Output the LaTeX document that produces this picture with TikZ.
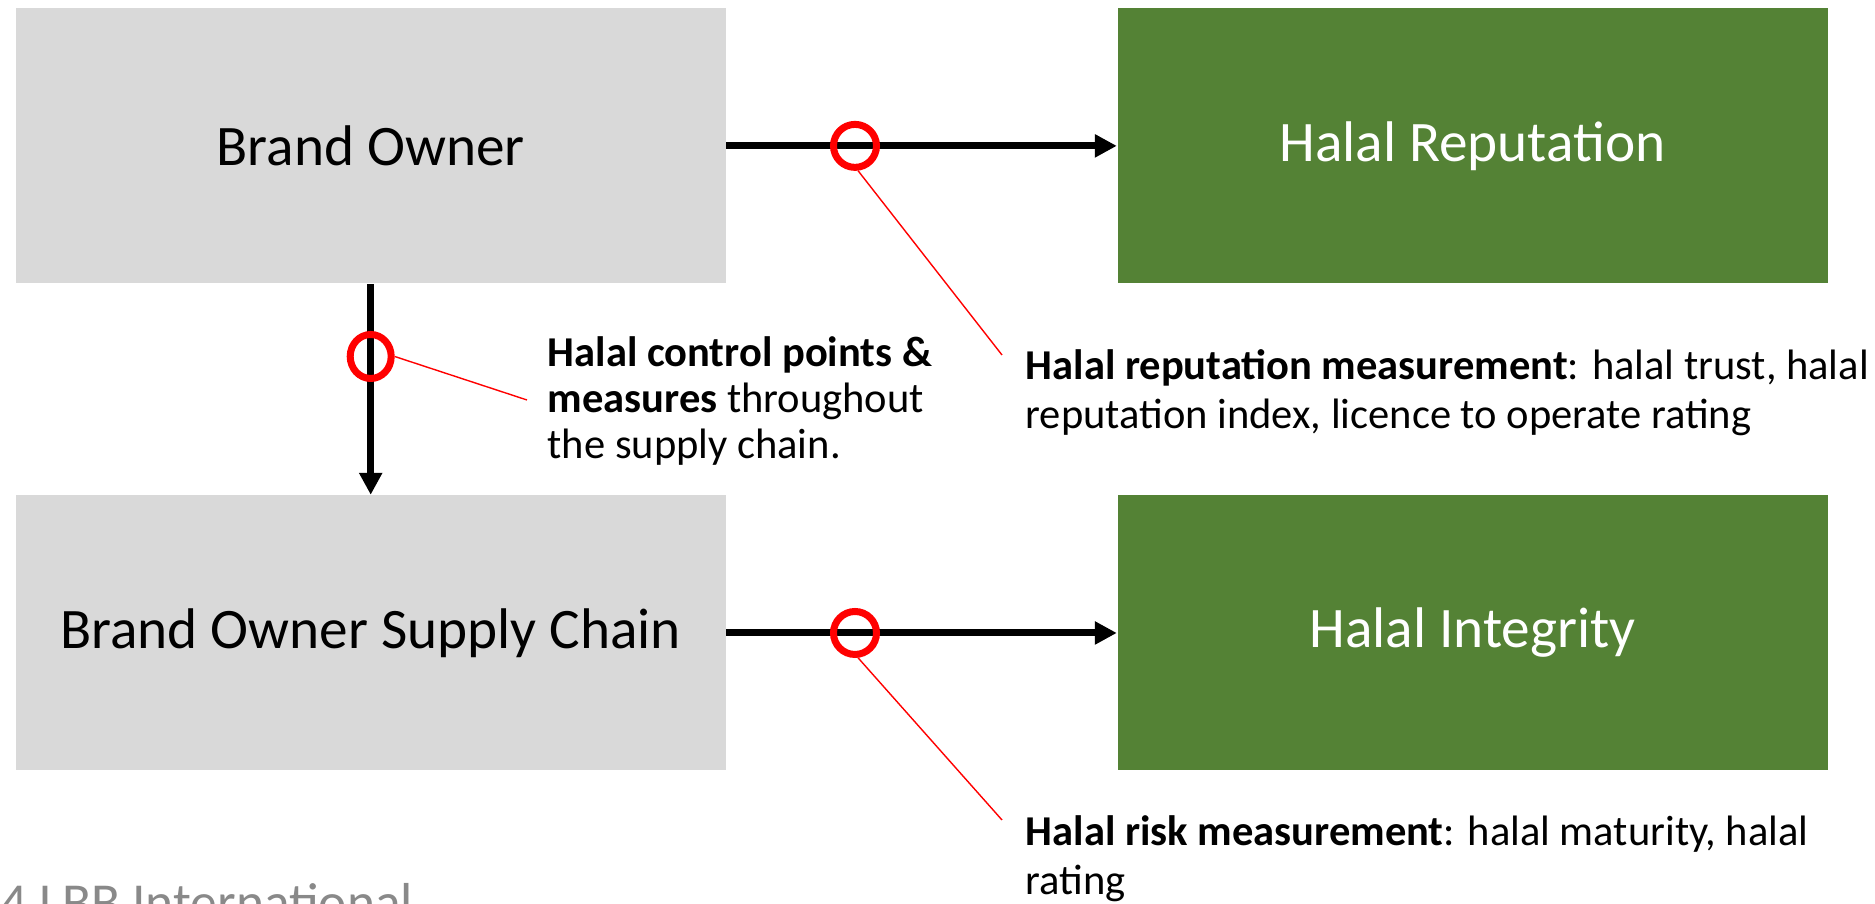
\documentclass[tikz,border=0pt]{standalone}
\usepackage{fontspec}
\setmainfont{Carlito}
\usetikzlibrary{arrows.meta}
\usetikzlibrary{shapes.geometric}

\definecolor{boxgray}{HTML}{D9D9D9}
\definecolor{halalgreen}{HTML}{548235}
\definecolor{footgray}{HTML}{898989}

\tikzset{
    box/.style={rectangle, fill=boxgray, minimum width=7.10cm, minimum height=2.75cm, inner sep=0pt, font=\fontsize{16.3}{19}\selectfont},
    greenbox/.style={box, fill=halalgreen, text=white},
    flow/.style={line width=0.07cm, -{Triangle[length=0.22cm,width=0.22cm]}},
    ring/.style={draw=red, line width=0.07cm, inner sep=0pt},
    lead/.style={red, line width=0.4pt},
    note/.style={anchor=base west, align=left, inner sep=0pt, font=\fontsize{12.1}{14.2}\selectfont}
}

\begin{document}
\begin{tikzpicture}
    \useasboundingbox (0,0) rectangle (18.75,9.04);

    \node[box] (bo) at (3.707,7.581) {Brand Owner};
    \node[greenbox] (rep) at (14.725,7.581) {Halal Reputation};
    \node[box] (bosc) at (3.707,2.71) {Brand Owner Supply Chain};
    \node[greenbox] (integ) at (14.725,2.71) {Halal Integrity};

    \draw[flow] (bo) -- (rep);
    \draw[flow] (bo) -- (bosc);
    \draw[flow] (bosc) -- (integ);

    \node[ring, circle, minimum size=0.43cm] (r1) at (8.55,7.581) {};
    \node[ring, circle, minimum size=0.43cm] (r2) at (8.55,2.71) {};
    \node[ring, ellipse, minimum width=0.41cm, minimum height=0.44cm] (r3) at (3.707,5.475) {};

    % anchor is the baseline of the last line
    \node[note, font=\fontsize{12.1}{13.2}\selectfont] (ctrl) at (5.47,4.45) {\textbf{Halal control points \&}\\\textbf{measures} throughout\\the supply chain.};
    \node[note] (repnote) at (10.25,4.75) {\textbf{Halal reputation measurement}: halal trust, halal\\reputation index, licence to operate rating};
    \node[note] (risknote) at (10.25,0.09) {\textbf{Halal risk measurement}: halal maturity, halal\\rating};

    \coordinate (e1) at (10.02,5.49);
    \coordinate (e2) at (10.02,0.84);
    \coordinate (e3) at (5.27,5.04);
    \draw[lead] (r1.-83) -- (e1);
    \draw[lead] (r2.-83) -- (e2);
    \draw[lead] (r3.east) -- (e3);

    \node[anchor=base west, inner sep=0pt, text=footgray, font=\fontsize{15.2}{18}\selectfont] (foot) at (0,-0.161) {4 LBB International};
\end{tikzpicture}
\end{document}
